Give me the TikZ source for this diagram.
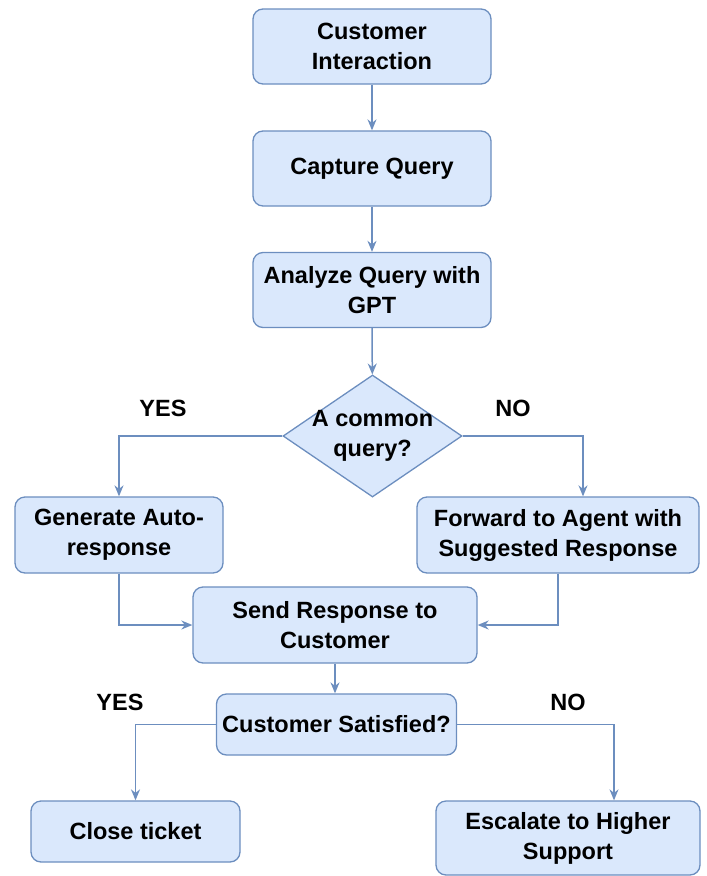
\documentclass[tikz,border=0pt]{standalone}
\usepackage{fontspec}
\setmainfont{Liberation Sans}
\usetikzlibrary{arrows.meta,shapes.geometric}

\definecolor{boxfill}{HTML}{DAE8FC}
\definecolor{boxline}{HTML}{6C8EBF}

\tikzstyle{process} = [rectangle, rounded corners=10pt, minimum width=238pt, minimum height=75pt, text centered, align=center, draw=boxline, line width=1.3pt, fill=boxfill, font=\fontsize{23.5}{30}\selectfont\bfseries]
\tikzstyle{decision} = [diamond, minimum width=179pt, minimum height=122pt, inner sep=0pt, draw=boxline, line width=1.3pt, fill=boxfill]
\tikzstyle{answer} = [text centered, align=center, font=\fontsize{23.5}{30}\selectfont\bfseries]
\tikzstyle{arrow} = [draw=boxline, line width=1.5pt, -{Stealth[length=11pt,width=9pt]}]

\begin{document}
\begin{tikzpicture}[x=1pt, y=-1pt]
    \useasboundingbox (0,0) rectangle (707,876);

    \node (interact) [process] at (372,46.5) {Customer\\Interaction};
    \node (capture) [process] at (372,168.5) {Capture Query};
    \node (analyze) [process] at (372,290) {Analyze Query with\\GPT};
    \node (common) [decision] at (372.5,436) {};
    \node (commontext) [answer] at (common) {A common\\query?};
    \node (auto) [process, minimum width=208pt, minimum height=76pt] at (119,535) {Generate Auto-\\response};
    \node (forward) [process, minimum width=282pt, minimum height=76pt] at (558,535) {Forward to Agent with\\Suggested Response};
    \node (send) [process, minimum width=284pt, minimum height=76pt] at (335,625) {Send Response to\\Customer};
    \node (satisfied) [process, minimum width=240pt, minimum height=61pt, inner sep=1pt] at (336.5,724.5) {Customer Satisfied?};
    \node (close) [process, minimum width=209pt, minimum height=61pt] at (135.5,831.5) {Close ticket};
    \node (escalate) [process, minimum width=264pt, minimum height=74pt] at (568,838) {Escalate to Higher\\Support};

    % branch labels
    \node (yesquery) [answer] at (163,408) {YES};
    \node (noquery) [answer] at (513,408) {NO};
    \node (yesdone) [answer] at (120,702) {YES};
    \node (nodone) [answer] at (568,702) {NO};

    \draw [arrow] (interact) -- (capture);
    \draw [arrow] (capture) -- (analyze);
    \draw [arrow] (analyze) -- (common);
    \draw [arrow] (common.west) -| (auto.north);
    \draw [arrow] (common.east) -| ([xshift=25pt]forward.north);
    \draw [arrow] (auto.south) |- (send.west);
    \draw [arrow] (forward.south) |- (send.east);
    \draw [arrow] (send.south) -- (send.south |- satisfied.north);
    \draw [arrow] (satisfied.west) -| (close.north);
    \draw [arrow] (satisfied.east) -| ([xshift=46pt]escalate.north);

\end{tikzpicture}
\end{document}
